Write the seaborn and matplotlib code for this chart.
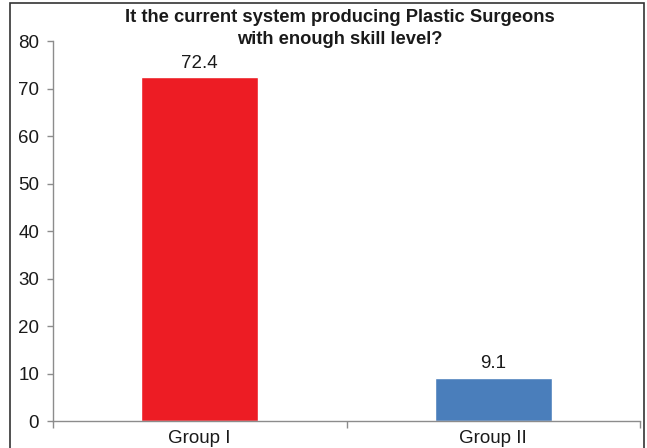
import matplotlib
matplotlib.use("Agg")
import matplotlib.pyplot as plt
from matplotlib.patches import Rectangle
import seaborn as sns
import pandas as pd

groups = ["Group I", "Group II"]
percent = [72.4, 9.1]
bar_colors = ["#ED1C24", "#4A7EBB"]
y_ticks = [0, 10, 20, 30, 40, 50, 60, 70, 80]
title_lines = ["It the current system producing Plastic Surgeons",
               "with enough skill level?"]

sns.set_theme(style="white")
plt.rcParams["font.family"] = ["Liberation Sans", "DejaVu Sans"]

df = pd.DataFrame({"group": groups, "value": percent})

fig = plt.figure(figsize=(6.47, 4.48), dpi=100)
ax = fig.add_axes([53 / 647, 27 / 448, 587 / 647, 380 / 448])

sns.barplot(data=df, x="group", y="value", hue="group", palette=bar_colors,
            width=0.4, legend=False, ax=ax, saturation=1)

ax.set_xlim(-0.5, 1.5)
ax.set_ylim(0, 80)
ax.set_yticks(y_ticks)
ax.set_xlabel("")
ax.set_ylabel("")

axis_grey = "#8C8C8C"
for side in ["top", "right"]:
    ax.spines[side].set_visible(False)
for side in ["left", "bottom"]:
    ax.spines[side].set_color(axis_grey)
    ax.spines[side].set_linewidth(1.0)

ax.tick_params(axis="y", which="major", left=True, length=4, width=1,
               color=axis_grey, labelsize=13.5, labelcolor="#1a1a1a", pad=6)
ax.tick_params(axis="x", which="major", bottom=False, labelsize=13.5,
               labelcolor="#1a1a1a", pad=0.5)
ax.set_xticks([-0.5, 0.5, 1.5], minor=True)
ax.tick_params(axis="x", which="minor", bottom=True, length=5, width=1,
               color=axis_grey)

for patch, val in zip(ax.patches, percent):
    ax.annotate(f"{val}", (patch.get_x() + patch.get_width() / 2, val),
                xytext=(0, 4), textcoords="offset points",
                ha="center", va="bottom", fontsize=13.5, color="#1a1a1a")

fig.text(340 / 647, 1 - 18 / 448, title_lines[0], ha="center", va="center",
         fontsize=13.2, fontweight="bold", color="#1a1a1a")
fig.text(340 / 647, 1 - 40 / 448, title_lines[1], ha="center", va="center",
         fontsize=13.2, fontweight="bold", color="#1a1a1a")

# outer frame around the chart area
fig.patches.append(Rectangle((10 / 647, -0.05), 634 / 647, 1.05 - 3 / 448,
                             transform=fig.transFigure, fill=False,
                             edgecolor="#333333", linewidth=1.2))

fig.savefig("out.png", dpi=100)
